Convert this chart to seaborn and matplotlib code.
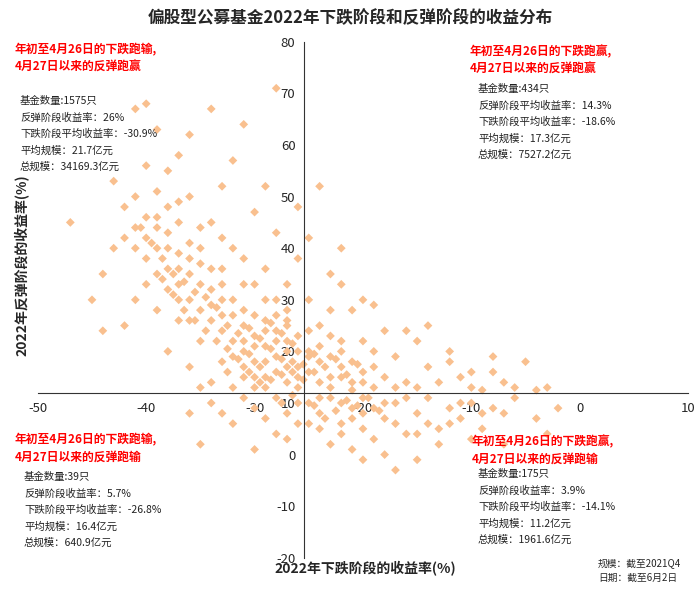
import matplotlib
matplotlib.use("Agg")
import matplotlib.pyplot as plt
import seaborn as sns
import pandas as pd

sns.set_style("white")
plt.rcParams['font.family'] = ['Noto Sans CJK SC', 'DejaVu Sans']
plt.rcParams['axes.unicode_minus'] = False

# points (decline-phase return, rebound-phase return)
points = [
    (-42,48),(-41,44),(-40,42),(-40,38),(-39,46),(-39,40),(-38,36),(-38,43),(-37,39),(-37,33),
    (-36,35),(-36,30),(-35,37),(-35,28),(-34,32),(-34,26),(-33,30),(-33,24),(-32,27),(-32,22),
    (-31,25),(-31,20),(-30,23),(-30,18),(-29,21),(-29,26),(-28,19),(-28,24),(-27,22),(-27,17),
    (-26,20),(-26,15),(-47,45),(-41,67),(-40,68),(-39,63),(-36,62),(-34,67),(-31,64),(-28,71),
    (-44,35),(-43,40),(-45,30),(-38,55),(-36,50),(-33,52),(-30,47),(-28,43),(-34,45),(-32,40),
    (-29,36),(-27,33),(-41,30),(-39,28),(-37,26),(-35,22),(-33,18),(-31,15),(-38,20),(-36,17),
    (-34,14),(-42,25),(-44,24),(-40,56),(-37,58),(-32,57),(-29,52),(-26,48),(-26,38),(-27,28),
    (-35,44),(-43,53),(-38,48),(-30,33),(-31,38),(-33,36),(-36,41),(-40,33),(-37,45),(-28,30),
    (-29,15),(-30,13),(-32,13),(-35,13),
    (-31,28),(-30,27),(-30,21),(-29,24),(-29,18),(-28,22),(-28,16),(-28,27),(-27,20),(-27,25),
    (-26,23),(-26,17),(-25,19),(-25,16),(-24,21),(-24,14),(-23,19),(-23,13),(-22,15),(-21,18),
    (-21,12.5),(-20,14),(-19,17),(-19,20),(-33,27),(-32,30),(-32,19),(-31,22),(-31,17),(-30,15),
    (-29,13),(-27,14),(-26,13),(-34,29),(-35,33),(-36,26),(-37,30),(-38,32),(-39,35),(-40,46),
    (-41,40),(-42,42),(-38,40),(-36,38),(-34,36),(-33,33),(-37,36),(-39,44),(-35,40),(-41,50),
    (-39,51),(-37,49),(-33,42),(-31,33),(-29,30),(-27,26),(-25,24),(-23,23),(-22,20),
    (-30.5,24.5),(-29.5,22.5),(-28.5,20.5),(-27.5,18.5),(-26.5,21.5),(-25.5,17.5),(-24.5,16),
    (-30.5,19.5),(-29.5,17),(-28.5,25.5),(-27.5,23.5),(-26.5,18),(-25.5,14.5),(-31.5,23.5),
    (-32.5,25),(-33.5,28.5),(-34.5,30.5),(-35.5,31.5),(-36.5,33.5),(-37.5,35),(-38.5,38),
    (-39.5,41),(-40.5,44),(-32.5,20.5),(-31.5,18.5),(-30.5,16),(-29.5,14),(-28.5,14.5),
    (-27.5,15.5),(-26.5,16),(-24.5,19.5),(-23.5,17),(-22.5,18.5),(-21.5,15.5),(-20.5,17.5),
    (-34.5,24),(-35.5,26),(-36.5,28),(-37.5,31),(-38.5,34),(-33.5,22),(-32.5,16),
    (-25,20),(-24,18),(-24,25),(-23,15),(-22,17),(-22,22),(-21,14),(-20,16),(-20,30),(-19,13),
    (-18,15),(-18,24),(-17,19),(-16,14),(-15,13),(-15,22),(-14,17),(-13,14),(-12,20),(-11,15),
    (-10,13),(-9,12.5),(-8,16),(-7,14),(-6,13),(-5,18),(-4,12.5),(-23,35),(-22,40),(-24,52),
    (-21,28),(-19,29),(-16,24),(-14,25),(-12,18),(-10,16),(-8,19),(-3,13),(-25,30),(-23,28),
    (-20,22),(-17,13),(-25,42),(-22,33),
    (-25,10),(-24,8),(-23,11),(-22,6),(-21,9),(-20,5),(-20,11),(-19,3),(-18,7),(-17,10),
    (-16,4),(-15,8),(-14,11),(-13,5),(-12,9),(-11,7),(-10,10),(-9,5),(-8,9),(-7,8),
    (-6,11),(-4,7),(-3,4),(-2,9),(-18,0),(-17,-3),(-15,-1),(-20,-1),(-23,2),(-24,5),
    (-21,1),(-13,2),(-10,3),(-7,2),(-16,11),(-22,10),(-19,9),(-14,6),(-24,11),(-25,6),
    (-22,4),(-21,7),(-20,8),(-18,10),(-17,6),(-15,4),(-12,6),(-11,10),(-9,8),
    (-24.5,9.5),(-23.5,7),(-22.5,8.5),(-21.5,10.5),(-20.5,9.5),(-19.5,11),(-18.5,8.5),
    (-26,10),(-27,8),(-28,11),(-29,7),(-30,9),(-31,11),(-32,6),(-34,10),(-35,2),(-36,8),
    (-28,4),(-30,1),(-26,6),(-27,3),(-33,8),(-26.5,11.5),(-27.5,10),
]
df = pd.DataFrame(points, columns=["decline", "rebound"])

cross_x, cross_y = -25.4, 12  # quadrant divider position

fig = plt.figure(figsize=(7, 5.89), dpi=100)
ax = fig.add_axes([0.054, 0.053, 0.929, 0.876])
sns.scatterplot(data=df, x="decline", y="rebound", marker="D", s=20,
                color="#F9C08F", edgecolor="none", ax=ax)
ax.set_xlim(-50, 10)
ax.set_ylim(-20, 80)
ax.set_xticks(range(-50, 11, 10))
ax.set_yticks(range(-20, 81, 10))
ax.spines['left'].set_position(('data', cross_x))
ax.spines['bottom'].set_position(('data', cross_y))
ax.spines['top'].set_visible(False)
ax.spines['right'].set_visible(False)
for s in ('left', 'bottom'):
    ax.spines[s].set_color('#333333')
ax.tick_params(labelsize=9.5, length=3, direction='out')
ax.set_xlabel("")
ax.set_ylabel("")

fig.text(0.5, 0.97, "偏股型公募基金2022年下跌阶段和反弹阶段的收益分布",
         ha='center', va='center', fontsize=12, fontweight='bold')
fig.text(365 / 700, 1 - 569 / 589, "2022年下跌阶段的收益率(%)", ha='center', va='center',
         fontsize=10, fontweight='bold')
fig.text(22 / 700, 0.55, "2022年反弹阶段的收益率(%)", ha='center', va='center',
         rotation=90, fontsize=10, fontweight='bold')
fig.text(598 / 700, 1 - 563 / 589, "规模：截至2021Q4", fontsize=7, va='center')
fig.text(598 / 700, 1 - 578 / 589, "日期：截至6月2日", fontsize=7, va='center')

blocks = [
    (15, 50, 20, 101, ["年初至4月26日的下跌跑输,", "4月27日以来的反弹跑赢"],
     ["基金数量:1575只", "反弹阶段收益率：26%", "下跌阶段平均收益率：-30.9%",
      "平均规模：21.7亿元", "总规模：34169.3亿元"]),
    (470, 52, 478, 89, ["年初至4月26日的下跌跑赢,", "4月27日以来的反弹跑赢"],
     ["基金数量:434只", "反弹阶段平均收益率：14.3%", "下跌阶段平均收益率：-18.6%",
      "平均规模：17.3亿元", "总规模：7527.2亿元"]),
    (15, 440, 24, 477, ["年初至4月26日的下跌跑输,", "4月27日以来的反弹跑输"],
     ["基金数量:39只", "反弹阶段收益率：5.7%", "下跌阶段平均收益率：-26.8%",
      "平均规模：16.4亿元", "总规模：640.9亿元"]),
    (472, 442, 478, 474, ["年初至4月26日的下跌跑赢,", "4月27日以来的反弹跑输"],
     ["基金数量:175只", "反弹阶段收益率：3.9%", "下跌阶段平均收益率：-14.1%",
      "平均规模：11.2亿元", "总规模：1961.6亿元"]),
]
for rx, ry, sx, sy, reds, stats in blocks:
    for i, t in enumerate(reds):
        fig.text(rx / 700, 1 - (ry + 17 * i) / 589, t, color='red', fontsize=8.5,
                 fontweight='bold', va='center')
    for i, t in enumerate(stats):
        fig.text(sx / 700, 1 - (sy + 16.5 * i) / 589, t, color='#222222', fontsize=7.5,
                 va='center')

fig.savefig("out.png", dpi=100)
